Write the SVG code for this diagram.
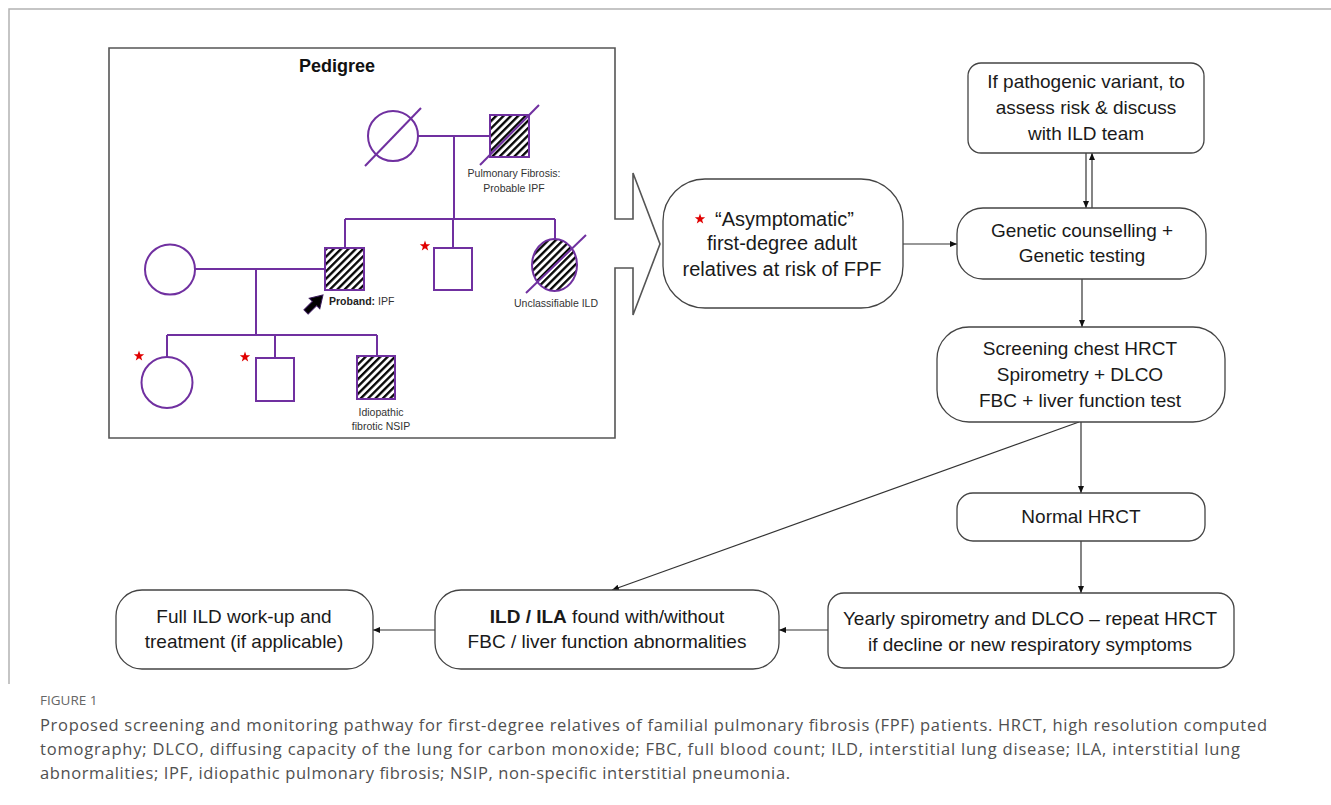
<svg xmlns="http://www.w3.org/2000/svg" width="1331" height="805" viewBox="0 0 1331 805">
<style>
.frame{fill:none;stroke:#b3b3b3;stroke-width:1.5}
.pbox{fill:#fff;stroke:#555;stroke-width:1.6}
.ped{fill:none;stroke:#7030A0;stroke-width:2}
.pedw{fill:#fff;stroke:#7030A0;stroke-width:2}
.hatch{fill:url(#hatch);stroke:#7030A0;stroke-width:2}
.box{fill:#fff;stroke:#444;stroke-width:1.3}
.conn{fill:none;stroke:#333;stroke-width:1.2}
.t{font-family:"Liberation Sans",Arial,sans-serif;font-size:19px;fill:#1a1a1a;text-anchor:middle}
.ts{font-family:"Liberation Sans",Arial,sans-serif;font-size:10.5px;fill:#333;text-anchor:middle}
.title{font-family:"Liberation Sans",Arial,sans-serif;font-size:18px;font-weight:bold;fill:#111;text-anchor:middle}
.cap{font-family:"Open Sans","Liberation Sans",sans-serif;font-size:16.5px;font-weight:normal;fill:#505050}
.fig{font-family:"Open Sans","Liberation Sans",sans-serif;font-size:13.5px;fill:#666}
.star{fill:#e00000}
</style>
<defs>
<pattern id="hatch" width="5.2" height="5.2" patternUnits="userSpaceOnUse" patternTransform="rotate(45)">
<rect width="5.2" height="5.2" fill="#fff"/>
<line x1="1.2" y1="0" x2="1.2" y2="5.2" stroke="#000" stroke-width="2.3"/>
</pattern>
<polygon id="star" points="0,-5.5 1.3,-1.8 5.2,-1.7 2.1,0.7 3.2,4.5 0,2.3 -3.2,4.5 -2.1,0.7 -5.2,-1.7 -1.3,-1.8"/>
<marker id="ah" markerWidth="8" markerHeight="8" refX="7" refY="4" orient="auto" markerUnits="userSpaceOnUse">
<path d="M0,1 L7,4 L0,7 Z" fill="#111"/>
</marker>
</defs>

<rect width="1331" height="805" fill="#fff"/>
<path class="frame" d="M9,684 V9 H1331"/>

<g id="pedigree">
<path class="pbox" d="M109,48 H615 V219 H633 V173 L660,244 L633,315 V268 H615 V438 H109 Z"/>
<text class="title" x="337" y="72">Pedigree</text>
<path class="ped" d="M418,136 H490 M454,136 V219 M345,219 H555 M345,219 V248 M453,219 V248 M555,219 V239 M195,269 H325 M256,269 V335 M167,335 H377 M167,335 V357 M275,335 V358 M377,335 V356"/>
<circle class="pedw" cx="393" cy="136" r="25"/>
<line class="ped" x1="365" y1="166" x2="421" y2="108"/>
<rect class="hatch" x="490" y="115" width="39" height="42"/>
<line class="ped" x1="480" y1="165" x2="539" y2="105"/>
<text class="ts" x="514" y="177">Pulmonary Fibrosis:</text>
<text class="ts" x="514" y="192">Probable IPF</text>
<circle class="pedw" cx="170" cy="269.5" r="25"/>
<rect class="hatch" x="325" y="248" width="39" height="42"/>
<polygon points="-12,-3 0,-3 0,-7.5 12,0 0,7.5 0,3 -12,3" transform="translate(314.5,303.5) rotate(-45)" fill="#000" stroke="#3a1a5a" stroke-width="1"/>
<text class="ts" x="329" y="305" style="text-anchor:start"><tspan font-weight="bold" fill="#222">Proband:</tspan> IPF</text>
<rect class="pedw" x="434" y="248" width="38" height="42"/>
<use href="#star" class="star" x="425" y="246"/>
<ellipse class="hatch" cx="554.5" cy="265" rx="22.5" ry="26"/>
<line class="ped" x1="526" y1="293" x2="586" y2="235"/>
<text class="ts" x="556" y="307">Unclassifiable ILD</text>
<circle class="pedw" cx="167" cy="382.5" r="25.5"/>
<use href="#star" class="star" x="139" y="356"/>
<rect class="pedw" x="256" y="358" width="38" height="43"/>
<use href="#star" class="star" x="245" y="357"/>
<rect class="hatch" x="357" y="356" width="38" height="43"/>
<text class="ts" x="381" y="416">Idiopathic</text>
<text class="ts" x="381" y="430">fibrotic NSIP</text>
</g>

<g id="connectors">
<line class="conn" x1="903" y1="244" x2="957" y2="244" marker-end="url(#ah)"/>
<line class="conn" x1="1086" y1="153" x2="1086" y2="208" marker-end="url(#ah)"/>
<line class="conn" x1="1092" y1="208" x2="1092" y2="153" marker-end="url(#ah)"/>
<line class="conn" x1="1082" y1="279" x2="1082" y2="327" marker-end="url(#ah)"/>
<line class="conn" x1="1081" y1="422" x2="1081" y2="493" marker-end="url(#ah)"/>
<line class="conn" x1="1079" y1="422" x2="612" y2="590" marker-end="url(#ah)"/>
<line class="conn" x1="1081" y1="541" x2="1081" y2="593" marker-end="url(#ah)"/>
<line class="conn" x1="828" y1="630" x2="779" y2="630" marker-end="url(#ah)"/>
<line class="conn" x1="435" y1="630" x2="373" y2="630" marker-end="url(#ah)"/>
</g>

<g id="asymptomatic">
<rect class="box" x="663" y="179" width="240" height="129" rx="42"/>
<use href="#star" class="star" x="700" y="219"/>
<text class="t" x="715" y="226" style="text-anchor:start;font-size:20px">“Asymptomatic”</text>
<text class="t" x="782" y="250" style="font-size:20px">first-degree adult</text>
<text class="t" x="782" y="276" style="font-size:20px">relatives at risk of FPF</text>
</g>

<g id="pathogenic">
<rect class="box" x="968" y="63" width="236" height="90" rx="13"/>
<text class="t" x="1086" y="88">If pathogenic variant, to</text>
<text class="t" x="1086" y="114">assess risk &amp; discuss</text>
<text class="t" x="1086" y="140">with ILD team</text>
</g>

<g id="genetic">
<rect class="box" x="957" y="208" width="249" height="71" rx="26"/>
<text class="t" x="1082" y="237">Genetic counselling +</text>
<text class="t" x="1082" y="262">Genetic testing</text>
</g>

<g id="screening">
<rect class="box" x="937" y="327" width="288" height="95" rx="32"/>
<text class="t" x="1080" y="355">Screening chest HRCT</text>
<text class="t" x="1080" y="381">Spirometry + DLCO</text>
<text class="t" x="1080" y="407">FBC + liver function test</text>
</g>

<g id="normal">
<rect class="box" x="957" y="493" width="248" height="48" rx="16"/>
<text class="t" x="1081" y="523">Normal HRCT</text>
</g>

<g id="yearly">
<rect class="box" x="828" y="593" width="406" height="75" rx="16"/>
<text class="t" x="1030" y="625">Yearly spirometry and DLCO – repeat HRCT</text>
<text class="t" x="1030" y="651">if decline or new respiratory symptoms</text>
</g>

<g id="ild">
<rect class="box" x="435" y="590" width="344" height="79" rx="26"/>
<text class="t" x="607" y="623"><tspan font-weight="bold">ILD / ILA</tspan> found with/without</text>
<text class="t" x="607" y="648">FBC / liver function abnormalities</text>
</g>

<g id="fullild">
<rect class="box" x="116" y="590" width="257" height="79" rx="26"/>
<text class="t" x="244" y="623">Full ILD work-up and</text>
<text class="t" x="244" y="648">treatment (if applicable)</text>
</g>

<g id="caption">
<text class="fig" x="40" y="705">FIGURE 1</text>
<text class="cap" x="40" y="731" textLength="1227" lengthAdjust="spacing">Proposed screening and monitoring pathway for first-degree relatives of familial pulmonary fibrosis (FPF) patients. HRCT, high resolution computed</text>
<text class="cap" x="40" y="755" textLength="1200" lengthAdjust="spacing">tomography; DLCO, diffusing capacity of the lung for carbon monoxide; FBC, full blood count; ILD, interstitial lung disease; ILA, interstitial lung</text>
<text class="cap" x="40" y="779" textLength="750" lengthAdjust="spacing">abnormalities; IPF, idiopathic pulmonary fibrosis; NSIP, non-specific interstitial pneumonia.</text>
</g>
</svg>
